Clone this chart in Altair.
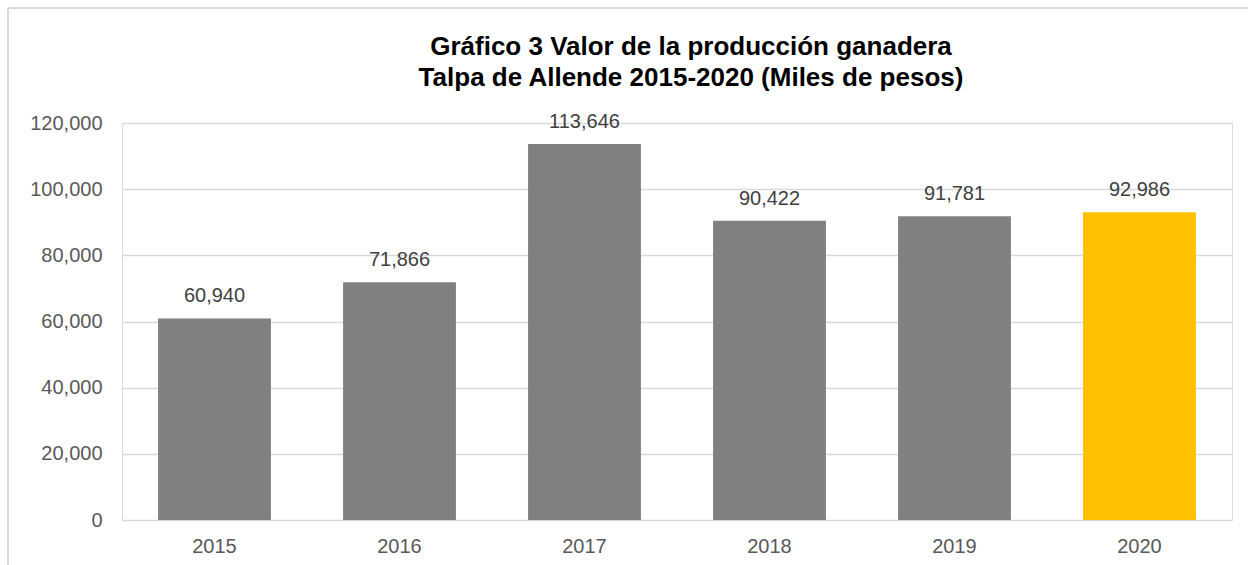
import altair as alt
import pandas as pd

years = ["2015", "2016", "2017", "2018", "2019", "2020"]
values = [60940, 71866, 113646, 90422, 91781, 92986]
colors = ["#808080", "#808080", "#808080", "#808080", "#808080", "#FFC000"]

df = pd.DataFrame({"year": years, "value": values, "color": colors})

FONT = "Liberation Sans"

x = alt.X("year:N", sort=years, title=None,
          scale=alt.Scale(paddingInner=0.39, paddingOuter=0.195),
          axis=alt.Axis(labelAngle=0, labelFontSize=20, labelColor="#595959",
                        labelFont=FONT, domain=False, ticks=False, labelPadding=16))
y = alt.Y("value:Q", title=None,
          scale=alt.Scale(domain=[0, 120000], nice=False),
          axis=alt.Axis(values=[0, 20000, 40000, 60000, 80000, 100000, 120000],
                        format=",.0f", labelFontSize=20, labelColor="#595959",
                        labelFont=FONT, domain=False, ticks=False, labelPadding=20,
                        gridColor="#d9d9d9", gridWidth=1.3))

base = alt.Chart(df)

bars = base.mark_bar().encode(x=x, y=y, color=alt.Color("color:N", scale=None))

labels = base.mark_text(dy=-22, fontSize=20, color="#404040", font=FONT).encode(
    x=x, y=y, text=alt.Text("value:Q", format=",")
)

border_color = "#d9d9d9"
top_line = base.mark_rule(color=border_color, strokeWidth=1.5).encode(
    x=alt.value(-114), x2=alt.value(1200), y=alt.value(-115)
)
left_line = base.mark_rule(color=border_color, strokeWidth=1.5).encode(
    x=alt.value(-114), y=alt.value(-115), y2=alt.value(500)
)

chart = alt.layer(bars, labels, top_line, left_line).properties(
    width=1110, height=397,
    autosize=alt.AutoSizeParams(type="none"),
    padding={"left": 122, "top": 123, "right": 16, "bottom": 45},
    title=alt.TitleParams(
        text=["Gráfico 3 Valor de la producción ganadera",
              "Talpa de Allende 2015-2020 (Miles de pesos)"],
        font=FONT, fontSize=26, fontWeight="bold", color="#000000",
        anchor="middle", dx=14, offset=0, dy=84, lineHeight=31,
    ),
).configure_view(stroke=None).configure(background="white")

chart.save("out.html", embed_options={"renderer": "svg", "actions": False})
